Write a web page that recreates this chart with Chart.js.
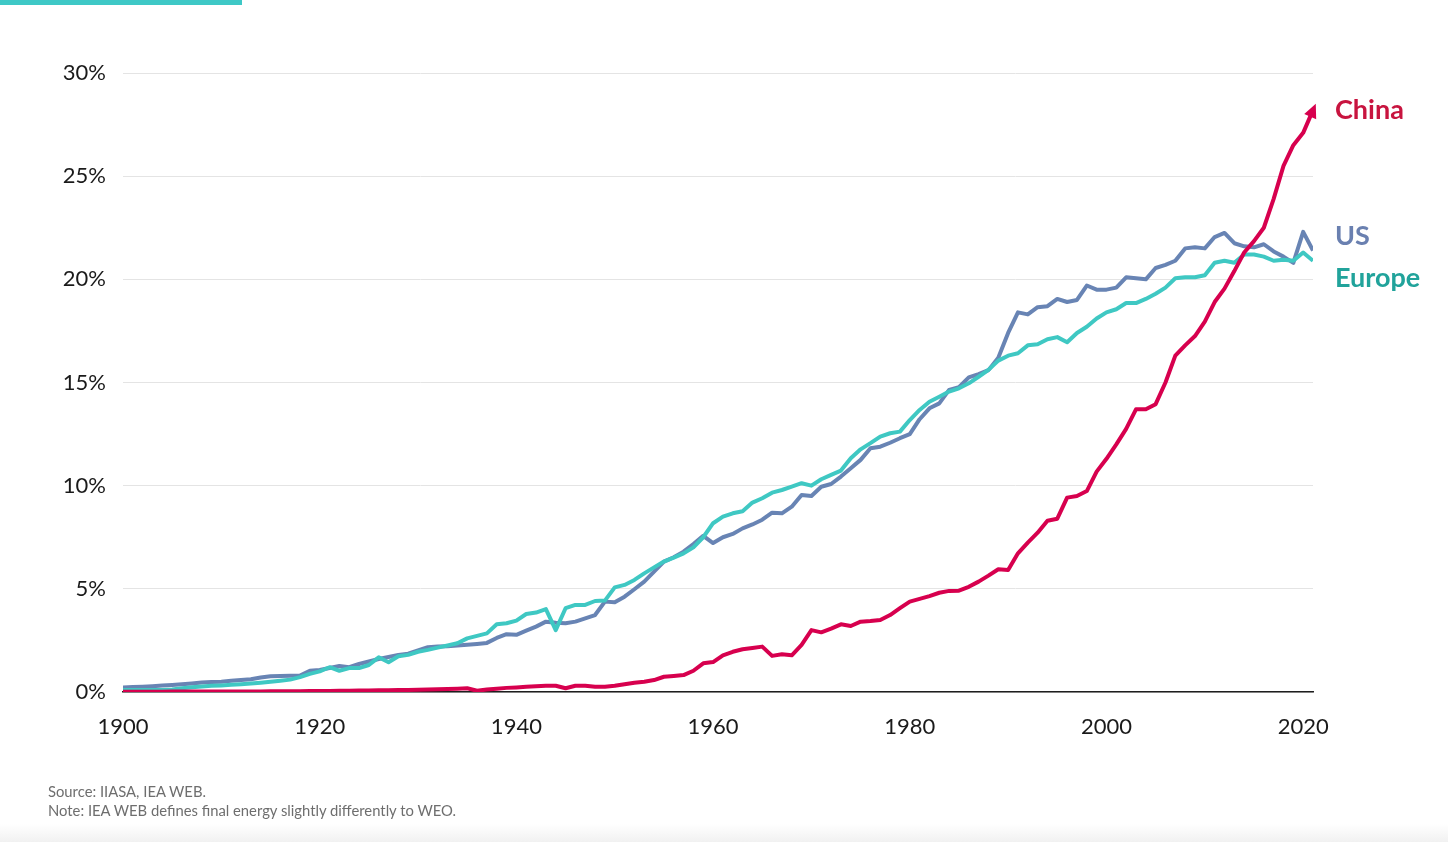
<!DOCTYPE html>
<html>
<head>
<meta charset="utf-8">
<script src="https://cdn.jsdelivr.net/npm/chart.js@4.4.1/dist/chart.umd.min.js"></script>
<style>
  html, body { margin: 0; padding: 0; background: #fff; }
  #wrap { position: relative; width: 1448px; height: 842px; overflow: hidden; font-family: Lato, "Noto Sans", sans-serif; }
  #topbar { position: absolute; left: 0; top: 0; width: 242px; height: 5px; background: #3ec8c6; }
  #notes { position: absolute; left: 48px; top: 782px; font-size: 14.8px; line-height: 19px; color: #6e6e6e; }
  #fade { position: absolute; left: 0; right: 0; bottom: 0; height: 18px; background: linear-gradient(#ffffff, #f1f1f1); }
  canvas { position: absolute; left: 0; top: 0; }
</style>
</head>
<body>
<div id="wrap">
  <canvas id="chart" width="1448" height="842"></canvas>
  <div id="topbar"></div>
  <div id="notes">Source: IIASA, IEA WEB.<br>Note: IEA WEB defines final energy slightly differently to WEO.</div>
  <div id="fade"></div>
</div>
<script>
// Electricity share of final energy consumption, 1900-2021 (%)
const firstYear = 1900;
const xTicks = [1900, 1920, 1940, 1960, 1980, 2000, 2020];
const yTicks = [0, 5, 10, 15, 20, 25, 30];

const china = [
  0.01, 0.01, 0.01, 0.01, 0.01, 0.02, 0.02, 0.02, 0.02, 0.02,
  0.03, 0.03, 0.03, 0.03, 0.03, 0.04, 0.04, 0.04, 0.04, 0.05,
  0.05, 0.05, 0.06, 0.06, 0.07, 0.07, 0.08, 0.09, 0.10, 0.10,
  0.11, 0.12, 0.13, 0.14, 0.16, 0.18, 0.06, 0.12, 0.16, 0.20,
  0.22, 0.25, 0.28, 0.30, 0.30, 0.18, 0.30, 0.30, 0.26, 0.26,
  0.30, 0.38, 0.45, 0.50, 0.58, 0.74, 0.78, 0.82, 1.03, 1.39,
  1.45, 1.78, 1.95, 2.07, 2.13, 2.20, 1.75, 1.83, 1.78, 2.28,
  3.00, 2.89, 3.07, 3.28, 3.20, 3.41, 3.44, 3.49, 3.73, 4.06,
  4.38, 4.51, 4.65, 4.81, 4.90, 4.91, 5.10, 5.35, 5.64, 5.95,
  5.91, 6.72, 7.24, 7.72, 8.30, 8.40, 9.42, 9.50, 9.74, 10.68,
  11.30, 12.00, 12.75, 13.70, 13.70, 13.95, 15.00, 16.30, 16.80, 17.25,
  17.95, 18.90, 19.55, 20.40, 21.30, 21.85, 22.50, 23.90, 25.50, 26.50,
  27.10, 28.20
];

const us = [
  0.22, 0.24, 0.26, 0.28, 0.31, 0.34, 0.37, 0.41, 0.46, 0.49,
  0.50, 0.54, 0.58, 0.62, 0.70, 0.76, 0.78, 0.79, 0.80, 1.03,
  1.07, 1.16, 1.26, 1.20, 1.36, 1.48, 1.60, 1.70, 1.80, 1.86,
  2.02, 2.17, 2.20, 2.22, 2.25, 2.29, 2.33, 2.38, 2.62, 2.80,
  2.77, 2.97, 3.17, 3.41, 3.36, 3.33, 3.41, 3.57, 3.73, 4.38,
  4.35, 4.62, 4.98, 5.35, 5.83, 6.32, 6.53, 6.80, 7.17, 7.57,
  7.22, 7.50, 7.66, 7.93, 8.12, 8.35, 8.69, 8.66, 8.98, 9.55,
  9.50, 9.95, 10.08, 10.44, 10.84, 11.25, 11.81, 11.89, 12.08, 12.30,
  12.50, 13.22, 13.75, 13.99, 14.64, 14.77, 15.25, 15.41, 15.60, 16.20,
  17.40, 18.40, 18.30, 18.65, 18.70, 19.05, 18.90, 19.00, 19.70, 19.50,
  19.50, 19.60, 20.10, 20.05, 20.00, 20.55, 20.70, 20.90, 21.50, 21.55,
  21.50, 22.05, 22.25, 21.75, 21.60, 21.55, 21.70, 21.35, 21.10, 20.80,
  22.30, 21.40
];

const europe = [
  0.10, 0.10, 0.10, 0.10, 0.10, 0.12, 0.18, 0.23, 0.27, 0.30,
  0.32, 0.35, 0.38, 0.41, 0.45, 0.50, 0.55, 0.60, 0.72, 0.88,
  1.00, 1.20, 1.03, 1.16, 1.16, 1.31, 1.68, 1.44, 1.73, 1.80,
  1.95, 2.04, 2.15, 2.25, 2.36, 2.60, 2.72, 2.84, 3.28, 3.33,
  3.46, 3.78, 3.85, 4.02, 3.00, 4.06, 4.22, 4.22, 4.41, 4.43,
  5.07, 5.19, 5.43, 5.75, 6.04, 6.32, 6.51, 6.72, 7.01, 7.50,
  8.18, 8.50, 8.66, 8.76, 9.18, 9.39, 9.66, 9.79, 9.95, 10.12,
  10.00, 10.31, 10.52, 10.73, 11.33, 11.76, 12.06, 12.38, 12.54, 12.62,
  13.18, 13.67, 14.07, 14.31, 14.56, 14.72, 14.96, 15.28, 15.61, 16.06,
  16.30, 16.42, 16.80, 16.85, 17.10, 17.20, 16.95, 17.40, 17.70, 18.10,
  18.40, 18.55, 18.85, 18.85, 19.05, 19.30, 19.60, 20.05, 20.10, 20.10,
  20.20, 20.80, 20.90, 20.80, 21.20, 21.20, 21.10, 20.90, 20.95, 20.90,
  21.30, 20.90
];

const seriesNames = ['China', 'Europe', 'US'];
const lineColors = ['#d7004e', '#3fc8c3', '#6884b4'];
const labelColors = ['#c8143f', '#21a39b', '#6a80b0'];

function toPoints(values) {
  return values.map((v, i) => ({ x: firstYear + i, y: v }));
}

// end-of-line labels plus the arrow head on China
const endLabels = {
  id: 'endLabels',
  afterDatasetsDraw(chart, args, opts) {
    const { ctx, chartArea, scales } = chart;
    ctx.save();
    ctx.font = 'bold 27px Lato, "Noto Sans", sans-serif';
    ctx.textBaseline = 'middle';
    ctx.textAlign = 'left';
    opts.items.forEach(item => {
      ctx.fillStyle = item.color;
      ctx.fillText(item.text, chartArea.right + 22, scales.y.getPixelForValue(item.at));
    });

    // arrow on the China line
    const pts = chart.getDatasetMeta(0).data;
    const a = pts[pts.length - 2], b = pts[pts.length - 1];
    const dx = b.x - a.x, dy = b.y - a.y;
    const len = Math.hypot(dx, dy);
    const ux = dx / len, uy = dy / len;
    const tipX = b.x + ux * 7, tipY = b.y + uy * 7;
    const baseX = b.x - ux * 7, baseY = b.y - uy * 7;
    ctx.fillStyle = lineColors[0];
    ctx.beginPath();
    ctx.moveTo(tipX, tipY);
    ctx.lineTo(baseX - uy * 6.5, baseY + ux * 6.5);
    ctx.lineTo(baseX + uy * 6.5, baseY - ux * 6.5);
    ctx.closePath();
    ctx.fill();
    ctx.restore();
  }
};

const tickFont = { family: 'Lato, "Noto Sans", sans-serif', size: 22 };

new Chart(document.getElementById('chart'), {
  type: 'line',
  data: {
    datasets: [china, europe, us].map((vals, i) => ({
      label: seriesNames[i],
      data: toPoints(vals),
      borderColor: lineColors[i],
      borderWidth: 4,
      pointRadius: 0,
      tension: 0,
      borderJoinStyle: 'round',
      fill: false
    }))
  },
  options: {
    responsive: false,
    animation: false,
    layout: { padding: { top: 73, right: 135, left: 0, bottom: 0 } },
    plugins: {
      legend: { display: false },
      tooltip: { enabled: false },
      endLabels: {
        items: [
          { text: 'China', color: labelColors[0], at: 28.2 },
          { text: 'US', color: labelColors[2], at: 22.1 },
          { text: 'Europe', color: labelColors[1], at: 20.05 }
        ]
      }
    },
    scales: {
      x: {
        type: 'linear',
        min: 1900,
        max: 2021,
        afterFit: s => { s.height = 150; },
        afterBuildTicks: s => { s.ticks = xTicks.map(v => ({ value: v })); },
        grid: { display: false, drawTicks: false },
        border: { display: true, color: '#1e1e1e', width: 1.5 },
        ticks: { font: tickFont, color: '#1a1a1a', padding: 22, maxRotation: 0, autoSkip: false, callback: v => String(v) }
      },
      y: {
        min: 0,
        max: 30,
        afterFit: s => { s.width = 123; },
        afterBuildTicks: s => { s.ticks = yTicks.map(v => ({ value: v })); },
        grid: { color: '#e4e4e4', lineWidth: 1, drawTicks: false },
        border: { display: false },
        ticks: { font: tickFont, color: '#1a1a1a', padding: 17, callback: v => v + '%' }
      }
    }
  },
  plugins: [endLabels]
});
</script>
</body>
</html>
